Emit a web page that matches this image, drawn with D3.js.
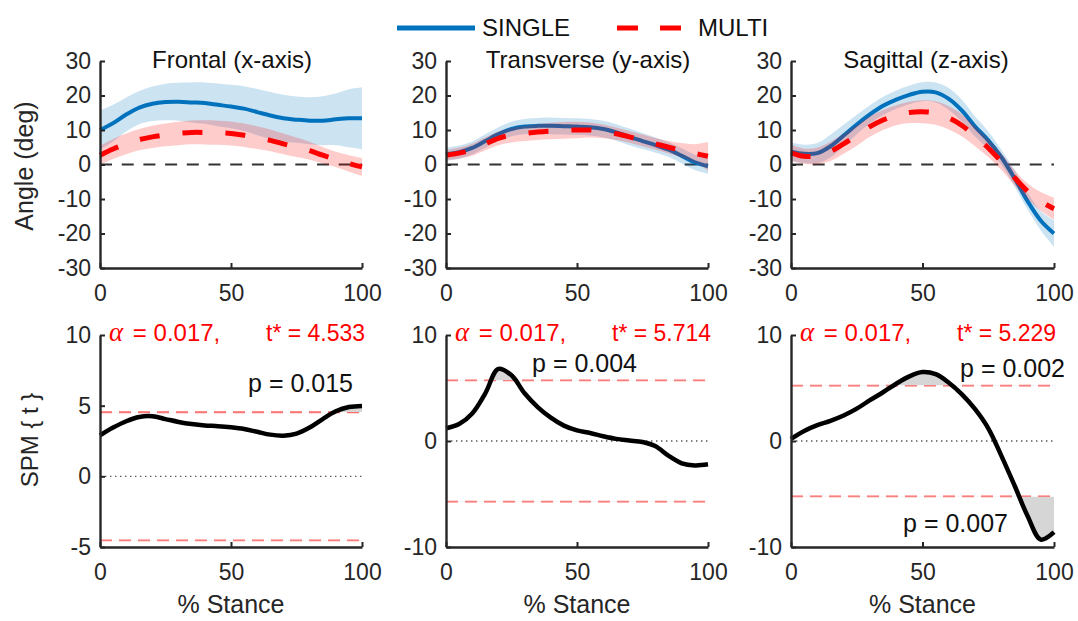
<!DOCTYPE html>
<html>
<head>
<meta charset="utf-8">
<script src="https://cdn.jsdelivr.net/npm/d3@7"></script>
<style>
  body { margin: 0; background: #fff; }
  text { font-family: "Liberation Sans", Arial, Helvetica, sans-serif; }
</style>
</head>
<body>
<svg id="fig" width="1078" height="621"></svg>
<script>
// ---- data -------------------------------------------------------------
const stance = [0, 5, 10, 15, 20, 25, 30, 35, 40, 45, 50, 55, 60, 65, 70, 75, 80, 85, 90, 95, 100];

const planeTitles = ["Frontal (x-axis)", "Transverse (y-axis)", "Sagittal (z-axis)"];
const groupNames = ["SINGLE", "MULTI"];

// joint angle (deg), mean and SD across the stance phase
const frontalSingle      = [10, 12, 14.5, 16.5, 17.6, 18.1, 18.2, 18, 17.8, 17.3, 16.8, 16.2, 15.2, 14.2, 13.4, 13, 12.7, 12.7, 13.1, 13.4, 13.4];
const frontalSingleSD    = [5.6, 5.3, 4.9, 4.8, 5, 5.3, 5.5, 5.8, 6, 6.2, 6.3, 6.5, 6.7, 6.8, 6.8, 6.7, 6.8, 7.1, 7.5, 8.4, 9];
const frontalMulti       = [2.7, 4.5, 6, 7.2, 8, 8.6, 9, 9.3, 9.3, 9.2, 9, 8.5, 7.8, 7, 6, 5, 4, 2.7, 1.5, 0.3, -0.7];
const frontalMultiSD     = [2.7, 2.9, 3, 3.1, 3.2, 3.3, 3.4, 3.45, 3.5, 3.5, 3.5, 3.4, 3.3, 3.15, 3, 2.8, 2.6, 2.4, 2.2, 2.4, 2.6];

const transverseSingle   = [3, 3.6, 4.8, 6.8, 8.8, 10.3, 11, 11.2, 11.2, 11.1, 11, 10.8, 10.3, 9.3, 8, 6.8, 5.6, 4.3, 2.5, 0.6, -0.5];
const transverseSingleSD = [1.9, 1.9, 1.9, 1.95, 2, 2.1, 2.2, 2.3, 2.4, 2.4, 2.4, 2.4, 2.4, 2.4, 2.4, 2.3, 2.2, 2.15, 2.2, 2.2, 2.2];
const transverseMulti    = [2.7, 3.3, 4.3, 6, 7.6, 8.5, 9, 9.4, 9.7, 9.9, 10, 10, 9.6, 8.9, 8, 7, 6, 5, 4.1, 3.2, 2.4];
const transverseMultiSD  = [1.45, 1.6, 1.75, 1.9, 2, 2.1, 2.2, 2.3, 2.4, 2.45, 2.4, 2.2, 2, 1.8, 1.7, 1.7, 1.7, 1.8, 2.1, 2.7, 4.1];

const sagittalSingle     = [3.7, 3.1, 3.3, 5.3, 8.4, 11.6, 14.5, 17, 18.8, 20.2, 21.1, 20.9, 19, 15.6, 11, 7, 2.1, -4, -10.7, -16.3, -20];
const sagittalSingleSD   = [2.65, 2.65, 2.9, 3.3, 3.1, 2.8, 2.65, 2.65, 2.65, 2.7, 2.75, 2.9, 3.2, 3.2, 2.9, 2.6, 2.2, 2.4, 2.45, 2.8, 3.8];
const sagittalMulti      = [3.4, 2.4, 2.5, 3.8, 6, 8.4, 11, 12.9, 14.3, 15.1, 15.3, 14.9, 13.5, 11.3, 8.2, 4.8, 0.8, -3.8, -7.8, -10.7, -12.8];
const sagittalMultiSD    = [2.4, 2.2, 2.4, 2.8, 2.9, 2.95, 2.95, 2.9, 2.9, 3.1, 3.35, 3.4, 3.35, 3.2, 2.9, 2.6, 2.4, 2.2, 2.3, 2.7, 3.15];

// SPM{t} trajectories and inference results
const spmFrontal    = [2.9, 3.45, 3.9, 4.2, 4.25, 4.05, 3.85, 3.7, 3.6, 3.55, 3.47, 3.35, 3.15, 2.95, 2.88, 3.02, 3.45, 4.05, 4.6, 4.9, 4.98];
const spmTransverse = [1.2, 1.6, 2.6, 4.5, 6.8, 6.2, 4.5, 3.2, 2.2, 1.45, 1, 0.75, 0.45, 0.2, 0.05, -0.1, -0.5, -1.4, -2.1, -2.3, -2.2];
const spmSagittal   = [0.2, 0.95, 1.5, 1.9, 2.4, 3.05, 3.85, 4.6, 5.4, 6.1, 6.5, 6.3, 5.5, 4.4, 3, 1.2, -1.4, -4.2, -7.1, -9.3, -8.6];
const alphaCrit = [0.017, 0.017, 0.017];
const tCrit     = [4.533, 5.714, 5.229];
const clusterP  = [[0.015], [0.004], [0.002, 0.007]];

// tick labels
const stanceTicks = [0, 50, 100];
const angleTicks  = [-30, -20, -10, 0, 10, 20, 30];
const spmTicks    = [[-5, 0, 5, 10], [-10, 0, 10], [-10, 0, 10]];
const spmDomains  = [[-5, 10], [-10, 10], [-10, 10]];

// ---- drawing ----------------------------------------------------------
const svg = d3.select("#fig");
const AX = "#262626";
const BLUE = "#0072BD";
const RED = "#FF0000";

const panelX = [[100, 362], [446, 708], [791, 1054]];
const topY = [268, 61];
const botY = [547, 335];

const angleMeans = [
  [frontalSingle, frontalSingleSD, frontalMulti, frontalMultiSD],
  [transverseSingle, transverseSingleSD, transverseMulti, transverseMultiSD],
  [sagittalSingle, sagittalSingleSD, sagittalMulti, sagittalMultiSD]
];
const spmSeries = [spmFrontal, spmTransverse, spmSagittal];

const curve = d3.curveCatmullRom.alpha(0.5);
const plainNumber = d => String(d);   // hyphen-minus for negative labels

function drawAxes(g, x, y, xt, yt) {
  const ax = g.append("g").attr("transform", `translate(0,${y.range()[0]})`)
    .call(d3.axisBottom(x).tickValues(xt).tickFormat(plainNumber)
      .tickSizeInner(-5).tickSizeOuter(0).tickPadding(17));
  const ay = g.append("g").attr("transform", `translate(${x.range()[0]},0)`)
    .call(d3.axisLeft(y).tickValues(yt).tickFormat(plainNumber)
      .tickSizeInner(-5).tickSizeOuter(0).tickPadding(9));
  [ax, ay].forEach(a => {
    a.select(".domain").attr("stroke", AX).attr("stroke-width", 2.4);
    a.selectAll(".tick line").attr("stroke", AX).attr("stroke-width", 2);
    a.selectAll(".tick text").attr("fill", AX).style("font-size", "23px")
      .style("font-family", '"Liberation Sans", Arial, sans-serif');
  });
}

// ---- top row: joint angles ----
angleMeans.forEach((set, i) => {
  const [single, singleSD, multi, multiSD] = set;
  const g = svg.append("g");
  const x = d3.scaleLinear().domain([0, 100]).range(panelX[i]);
  const y = d3.scaleLinear().domain([-30, 30]).range(topY);

  g.append("line")
    .attr("x1", x(0)).attr("x2", x(100)).attr("y1", y(0)).attr("y2", y(0))
    .attr("stroke", "#333").attr("stroke-width", 1.8).attr("stroke-dasharray", "12,9.7");

  const band = (m, sd) => d3.area()
    .x((d, k) => x(stance[k]))
    .y0((d, k) => y(m[k] - sd[k]))
    .y1((d, k) => y(m[k] + sd[k]))
    .curve(curve)(m);
  const line = m => d3.line().x((d, k) => x(stance[k])).y(d => y(d)).curve(curve)(m);

  g.append("path").attr("d", band(single, singleSD)).attr("fill", BLUE).attr("fill-opacity", 0.2);
  g.append("path").attr("d", line(single)).attr("fill", "none").attr("stroke", BLUE).attr("stroke-width", 4);
  g.append("path").attr("d", band(multi, multiSD)).attr("fill", RED).attr("fill-opacity", 0.2);
  g.append("path").attr("d", line(multi)).attr("fill", "none").attr("stroke", RED)
    .attr("stroke-width", 5).attr("stroke-dasharray", "20,23");

  drawAxes(g, x, y, stanceTicks, angleTicks);

  const titleX = [232, 588, 926][i];
  g.append("text").attr("x", titleX).attr("y", 68).attr("text-anchor", "middle")
    .attr("fill", "#111").style("font-size", "24px").text(planeTitles[i]);
});

// ---- bottom row: SPM{t} ----
const pPlacement = [
  [{ x: 353, y: 392 }],
  [{ x: 637, y: 372 }],
  [{ x: 1065, y: 377 }, { x: 1008, y: 532 }]
];

spmSeries.forEach((s, i) => {
  const g = svg.append("g");
  const x = d3.scaleLinear().domain([0, 100]).range(panelX[i]);
  const y = d3.scaleLinear().domain(spmDomains[i]).range(botY);
  const thr = tCrit[i];

  g.append("line")
    .attr("x1", x(0)).attr("x2", x(100)).attr("y1", y(0)).attr("y2", y(0))
    .attr("stroke", "#555").attr("stroke-width", 1.4).attr("stroke-dasharray", "1.4,3.6");

  [thr, -thr].forEach(t => {
    g.append("line")
      .attr("x1", x(0)).attr("x2", x(100)).attr("y1", y(t)).attr("y2", y(t))
      .attr("stroke", "#ff6464").attr("stroke-width", 1.8).attr("stroke-dasharray", "12,7");
  });

  // supra-threshold clusters: area between the trajectory and the threshold,
  // clipped to the region beyond each threshold
  const idUp = `clipUp${i}`, idDn = `clipDn${i}`;
  const defs = g.append("defs");
  defs.append("clipPath").attr("id", idUp).append("rect")
    .attr("x", x(0)).attr("width", x(100) - x(0))
    .attr("y", y.range()[1] - 20).attr("height", y(thr) - y.range()[1] + 20);
  defs.append("clipPath").attr("id", idDn).append("rect")
    .attr("x", x(0)).attr("width", x(100) - x(0))
    .attr("y", y(-thr)).attr("height", y.range()[0] - y(-thr) + 20);

  [[thr, idUp], [-thr, idDn]].forEach(([t, id]) => {
    g.append("path")
      .attr("d", d3.area().x((d, k) => x(stance[k])).y0(y(t)).y1(d => y(d)).curve(curve)(s))
      .attr("fill", "#d6d6d6").attr("clip-path", `url(#${id})`);
  });

  // cluster p-values on white boxes
  clusterP[i].forEach((p, j) => {
    const pos = pPlacement[i][j];
    const tg = g.append("g");
    const txt = tg.append("text").attr("x", pos.x).attr("y", pos.y).attr("text-anchor", "end")
      .attr("fill", "#111").style("font-size", "25px").text(`p = ${p.toFixed(3)}`);
    const bb = txt.node().getBBox();
    tg.insert("rect", "text").attr("x", bb.x - 4).attr("y", bb.y + 3)
      .attr("width", bb.width + 8).attr("height", bb.height - 3).attr("fill", "#fff");
  });

  g.append("path")
    .attr("d", d3.line().x((d, k) => x(stance[k])).y(d => y(d)).curve(curve)(s))
    .attr("fill", "none").attr("stroke", "#000").attr("stroke-width", 4.5);

  drawAxes(g, x, y, stanceTicks, spmTicks[i]);

  // critical threshold annotation
  const x0 = x(0);
  const a = g.append("text").attr("x", x0 + 9).attr("y", 341).attr("fill", RED).style("font-size", "24px");
  a.append("tspan").style("font-family", '"Liberation Serif", "Times New Roman", serif')
    .style("font-style", "italic").style("font-size", "27px").text("α");
  a.append("tspan").attr("dx", 3).text(` = ${alphaCrit[i].toFixed(3)},`);
  g.append("text").attr("x", x0 + 166).attr("y", 341).attr("fill", RED).style("font-size", "23px")
    .text(`t* = ${thr.toFixed(3)}`);

  g.append("text").attr("x", (panelX[i][0] + panelX[i][1]) / 2).attr("y", 613)
    .attr("text-anchor", "middle").attr("fill", AX).style("font-size", "25px").text("% Stance");
});

// ---- y labels ----
svg.append("text").attr("transform", "translate(33,166) rotate(-90)")
  .attr("text-anchor", "middle").attr("fill", AX).style("font-size", "25px").text("Angle (deg)");
svg.append("text").attr("transform", "translate(38,440) rotate(-90)")
  .attr("text-anchor", "middle").attr("fill", AX).style("font-size", "24px").text("SPM { t }");

// ---- legend ----
const leg = svg.append("g");
leg.append("line").attr("x1", 397).attr("x2", 475).attr("y1", 28).attr("y2", 28)
  .attr("stroke", BLUE).attr("stroke-width", 5);
leg.append("text").attr("x", 482).attr("y", 36).attr("fill", "#111").style("font-size", "24px").text(groupNames[0]);
leg.append("line").attr("x1", 617).attr("x2", 682).attr("y1", 28).attr("y2", 28)
  .attr("stroke", RED).attr("stroke-width", 5).attr("stroke-dasharray", "21,22");
leg.append("text").attr("x", 698).attr("y", 36).attr("fill", "#111").style("font-size", "24px").text(groupNames[1]);
</script>
</body>
</html>
